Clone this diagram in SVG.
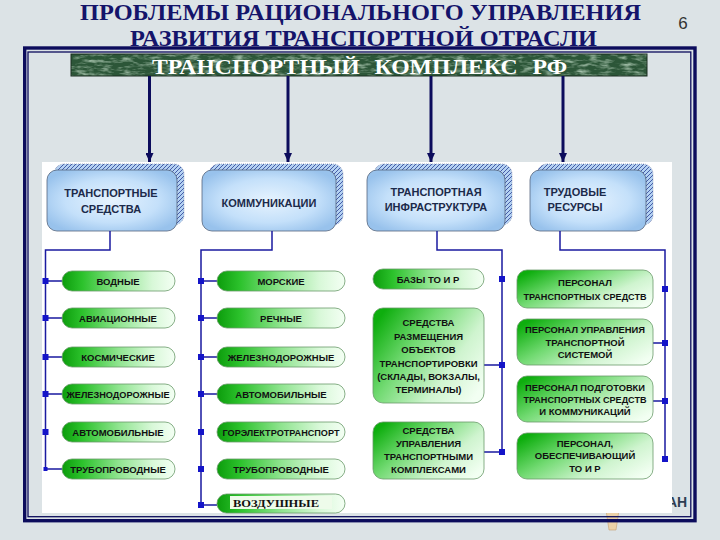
<svg xmlns="http://www.w3.org/2000/svg" width="720" height="540" viewBox="0 0 720 540">
<defs>
<style>
.title{font-family:"Liberation Serif","Times New Roman",serif;font-weight:bold;font-size:19px;fill:#14146a}
.pill{fill:url(#gPill);stroke:#6a9a6a;stroke-width:0.8}
.box{fill:url(#gBox);stroke:#6a9a6a;stroke-width:0.8}
.t{font-family:"Liberation Sans",Arial,sans-serif;font-weight:bold;font-size:9.5px;fill:#111;text-anchor:middle}
.h{font-family:"Liberation Sans",Arial,sans-serif;font-weight:bold;font-size:11px;fill:#1c2a4a;text-anchor:middle}
.hd{fill:url(#gHead);stroke:#56667e;stroke-width:0.8}
.sh{fill:url(#hatch);stroke:#6f80a8;stroke-width:0.6;stroke-dasharray:1 1}
.c{fill:none;stroke:#1a1aa0;stroke-width:1.5}
.sq{fill:#1414c8}
.arr{stroke:#0c0c5c;stroke-width:3;fill:none;marker-end:url(#ah)}
</style>
<radialGradient id="gHead" cx="0.5" cy="0.5" r="0.6">
<stop offset="0" stop-color="#e6f3fe"/>
<stop offset="0.6" stop-color="#c4e0fa"/>
<stop offset="1" stop-color="#98c2ec"/>
</radialGradient>
<linearGradient id="gPill" x1="0" y1="0" x2="1" y2="0">
<stop offset="0" stop-color="#0c9c0c"/>
<stop offset="0.18" stop-color="#2cc22c"/>
<stop offset="0.5" stop-color="#8fe48f"/>
<stop offset="0.8" stop-color="#d8f8d8"/>
<stop offset="1" stop-color="#f4fff4"/>
</linearGradient>
<linearGradient id="gBox" x1="0" y1="0.2" x2="1" y2="0.8">
<stop offset="0" stop-color="#0eae0e"/>
<stop offset="0.35" stop-color="#72da72"/>
<stop offset="0.7" stop-color="#cff4cf"/>
<stop offset="1" stop-color="#f2fff2"/>
</linearGradient>
<pattern id="hatch" patternUnits="userSpaceOnUse" width="4" height="4">
<rect width="4" height="4" fill="#b4d2f2"/>
<path d="M-1,5 L5,-1" stroke="#3a4fa0" stroke-width="0.9"/>
</pattern>
<filter id="marble" x="0" y="0" width="100%" height="100%">
<feTurbulence type="fractalNoise" baseFrequency="0.09 0.3" numOctaves="3" seed="4"/>
<feColorMatrix type="matrix" values="0 0 0 0 0.55  0 0 0 0 0.72  0 0 0 0 0.58  1.8 0 0 0 -0.8"/>
</filter>
<marker id="ah" markerUnits="userSpaceOnUse" markerWidth="9" markerHeight="8" viewBox="0 0 9 8" refX="9" refY="4" orient="auto">
<path d="M0,0 L9,4 L0,8 z" fill="#0c0c5c"/>
</marker>
</defs>

<rect width="720" height="540" fill="#dce3e6"/>

<text class="title" transform="translate(80,19.5) scale(1,1.2)" x="0" y="0" textLength="561" lengthAdjust="spacingAndGlyphs">ПРОБЛЕМЫ РАЦИОНАЛЬНОГО УПРАВЛЕНИЯ</text>
<text class="title" transform="translate(130,45.5) scale(1,1.2)" x="0" y="0" textLength="467" lengthAdjust="spacingAndGlyphs">РАЗВИТИЯ ТРАНСПОРТНОЙ ОТРАСЛИ</text>
<text x="683" y="29" font-family="Liberation Sans, Arial, sans-serif" font-size="17" fill="#333" text-anchor="middle">6</text>

<text x="667" y="507" font-family="Liberation Sans, Arial, sans-serif" font-weight="bold" font-size="14" fill="#2e3e52">АН</text>
<path d="M606,510 L619,510 L616,530 L609,530 Z" fill="#ecd2a8" stroke="#c8a070" stroke-width="0.6"/>

<rect x="42" y="162" width="630" height="351" fill="#ffffff"/>

<rect x="24.7" y="48" width="670.3" height="472.7" fill="none" stroke="#0c0c5c" stroke-width="3.4"/>
<rect x="28" y="52" width="662.8" height="464.7" fill="none" stroke="#0c0c5c" stroke-width="1.3"/>

<g id="banner">
<rect x="71" y="54" width="576" height="22" fill="#2c5638"/>
<rect x="71" y="54" width="576" height="22" fill="#2c5638" filter="url(#marble)"/>
<rect x="71" y="54" width="576" height="22" fill="none" stroke="#1a2e20" stroke-width="1"/>
<text x="152" y="74" font-family="Liberation Serif, Times New Roman, serif" font-weight="bold" font-size="21" fill="#ffffff" word-spacing="8" textLength="415" lengthAdjust="spacingAndGlyphs">ТРАНСПОРТНЫЙ КОМПЛЕКС РФ</text>
</g>

<g id="arrows">
<line class="arr" x1="149.5" y1="76" x2="149.5" y2="162"/>
<line class="arr" x1="288" y1="76" x2="288" y2="162"/>
<line class="arr" x1="431" y1="76" x2="431" y2="162"/>
<line class="arr" x1="563" y1="76" x2="563" y2="162"/>
</g>

<g id="head1">
<rect class="sh" x="54" y="164" width="130" height="61" rx="10"/>
<rect class="hd" x="47" y="170" width="130" height="61" rx="10"/>
<text class="h" x="111" y="197">ТРАНСПОРТНЫЕ</text>
<text class="h" x="111" y="213">СРЕДСТВА</text>
</g>
<g id="head2">
<rect class="sh" x="209" y="164" width="134" height="61" rx="10"/>
<rect class="hd" x="202" y="170" width="134" height="61" rx="10"/>
<text class="h" x="269" y="207">КОММУНИКАЦИИ</text>
</g>
<g id="head3">
<rect class="sh" x="374" y="164" width="138" height="61" rx="10"/>
<rect class="hd" x="367" y="170" width="138" height="61" rx="10"/>
<text class="h" x="436" y="196">ТРАНСПОРТНАЯ</text>
<text class="h" x="436" y="211">ИНФРАСТРУКТУРА</text>
</g>
<g id="head4">
<rect class="sh" x="537" y="164" width="116" height="61" rx="10"/>
<rect class="hd" x="530" y="170" width="116" height="61" rx="10"/>
<text class="h" x="575" y="196">ТРУДОВЫЕ</text>
<text class="h" x="575" y="211">РЕСУРСЫ</text>
</g>

<g id="connectors">
<path class="c" d="M110,231 V250 H45.5 V469 H62"/>
<path class="c" d="M45.5,281 H62 M45.5,318 H62 M45.5,357 H62 M45.5,394 H62"/>
<path class="c" d="M272,231 V250 H201 V394"/>
<path class="c" d="M201,394 V505 H217" stroke-width="2.2" stroke="#14148a"/>
<path class="c" d="M201,281 H217 M201,318 H217 M201,357 H217 M201,394 H217"/>
<path class="c" d="M437,231 V250 H502 V452"/>
<path class="c" d="M484,365 H502 M484,452 H502"/>
<path class="c" d="M560,231 V250 H665 V459"/>
<path class="c" d="M653,343 H665 M653,401 H665"/>
<g class="sq">
<rect x="42.5" y="278" width="6" height="6"/>
<rect x="42.5" y="315" width="6" height="6"/>
<rect x="42.5" y="354" width="6" height="6"/>
<rect x="42.5" y="391" width="6" height="6"/>
<rect x="42.5" y="429" width="6" height="6"/>
<rect x="43.5" y="467" width="4" height="4"/>
<rect x="198" y="278" width="6" height="6"/>
<rect x="198" y="315" width="6" height="6"/>
<rect x="198" y="354" width="6" height="6"/>
<rect x="198" y="391" width="6" height="6"/>
<rect x="198" y="429" width="6" height="6"/>
<rect x="198" y="466" width="6" height="6"/>
<rect x="198" y="502" width="6" height="6"/>
<rect x="499" y="276" width="6" height="6"/>
<rect x="499" y="362" width="6" height="6"/>
<rect x="499" y="449" width="6" height="6"/>
<rect x="662" y="286" width="6" height="6"/>
<rect x="662" y="340" width="6" height="6"/>
<rect x="662" y="398" width="6" height="6"/>
<rect x="662" y="456" width="6" height="6"/>
</g>
</g>

<g id="c1r1"><rect class="pill" x="62" y="271" width="113" height="20" rx="10"/><text class="t" x="118" y="284.5">ВОДНЫЕ</text></g>
<g id="c1r2"><rect class="pill" x="62" y="308" width="113" height="20" rx="10"/><text class="t" x="118" y="321.5">АВИАЦИОННЫЕ</text></g>
<g id="c1r3"><rect class="pill" x="62" y="347" width="113" height="20" rx="10"/><text class="t" x="118" y="360.5">КОСМИЧЕСКИЕ</text></g>
<g id="c1r4"><rect class="pill" x="62" y="384" width="113" height="20" rx="10"/><text class="t" x="118" y="397.5" textLength="103" lengthAdjust="spacingAndGlyphs">ЖЕЛЕЗНОДОРОЖНЫЕ</text></g>
<g id="c1r5"><rect class="pill" x="62" y="422" width="113" height="20" rx="10"/><text class="t" x="118" y="435.5">АВТОМОБИЛЬНЫЕ</text></g>
<g id="c1r6"><rect class="pill" x="62" y="459" width="113" height="20" rx="10"/><text class="t" x="118" y="472.5">ТРУБОПРОВОДНЫЕ</text></g>

<g id="c2r1"><rect class="pill" x="217" y="271" width="128" height="20" rx="10"/><text class="t" x="281" y="284.5">МОРСКИЕ</text></g>
<g id="c2r2"><rect class="pill" x="217" y="308" width="128" height="20" rx="10"/><text class="t" x="281" y="321.5">РЕЧНЫЕ</text></g>
<g id="c2r3"><rect class="pill" x="217" y="347" width="128" height="20" rx="10"/><text class="t" x="281" y="360.5">ЖЕЛЕЗНОДОРОЖНЫЕ</text></g>
<g id="c2r4"><rect class="pill" x="217" y="384" width="128" height="20" rx="10"/><text class="t" x="281" y="397.5">АВТОМОБИЛЬНЫЕ</text></g>
<g id="c2r5"><rect class="pill" x="217" y="422" width="128" height="20" rx="10"/><text class="t" x="281" y="435.5" textLength="117" lengthAdjust="spacingAndGlyphs">ГОРЭЛЕКТРОТРАНСПОРТ</text></g>
<g id="c2r6"><rect class="pill" x="217" y="459" width="128" height="20" rx="10"/><text class="t" x="281" y="472.5">ТРУБОПРОВОДНЫЕ</text></g>
<g id="c2r7"><rect class="pill" x="217" y="494" width="128" height="19" rx="9.5"/><rect x="230" y="496" width="102" height="13" fill="#eefbea"/><text x="233" y="507" font-family="Liberation Serif, Times New Roman, serif" font-weight="bold" font-size="11" fill="#111" textLength="86" lengthAdjust="spacingAndGlyphs">ВОЗДУШНЫЕ</text></g>

<g id="c3r1"><rect class="pill" x="373" y="269" width="111" height="20" rx="10"/><text class="t" x="428" y="282.5">БАЗЫ ТО И Р</text></g>
<g id="c3r2"><rect class="box" x="373" y="308" width="111" height="95" rx="10"/>
<text class="t" x="428.5" y="326">СРЕДСТВА</text>
<text class="t" x="428.5" y="339.5">РАЗМЕЩЕНИЯ</text>
<text class="t" x="428.5" y="353">ОБЪЕКТОВ</text>
<text class="t" x="428.5" y="366.5">ТРАНСПОРТИРОВКИ</text>
<text class="t" x="428.5" y="380">(СКЛАДЫ, ВОКЗАЛЫ,</text>
<text class="t" x="428.5" y="393">ТЕРМИНАЛЫ)</text></g>
<g id="c3r3"><rect class="box" x="373" y="422" width="111" height="57" rx="10"/>
<text class="t" x="428.5" y="434">СРЕДСТВА</text>
<text class="t" x="428.5" y="447">УПРАВЛЕНИЯ</text>
<text class="t" x="428.5" y="460">ТРАНСПОРТНЫМИ</text>
<text class="t" x="428.5" y="473">КОМПЛЕКСАМИ</text></g>

<g id="c4r1"><rect class="box" x="517" y="270" width="136" height="38" rx="10"/>
<text class="t" x="585" y="286">ПЕРСОНАЛ</text>
<text class="t" x="585" y="300" textLength="123" lengthAdjust="spacingAndGlyphs">ТРАНСПОРТНЫХ СРЕДСТВ</text></g>
<g id="c4r2"><rect class="box" x="517" y="319" width="136" height="46" rx="10"/>
<text class="t" x="585" y="333" textLength="120" lengthAdjust="spacingAndGlyphs">ПЕРСОНАЛ УПРАВЛЕНИЯ</text>
<text class="t" x="585" y="345.5">ТРАНСПОРТНОЙ</text>
<text class="t" x="585" y="358">СИСТЕМОЙ</text></g>
<g id="c4r3"><rect class="box" x="517" y="376" width="136" height="46" rx="10"/>
<text class="t" x="585" y="391" textLength="120" lengthAdjust="spacingAndGlyphs">ПЕРСОНАЛ ПОДГОТОВКИ</text>
<text class="t" x="585" y="403" textLength="123" lengthAdjust="spacingAndGlyphs">ТРАНСПОРТНЫХ СРЕДСТВ</text>
<text class="t" x="585" y="415">И КОММУНИКАЦИЙ</text></g>
<g id="c4r4"><rect class="box" x="517" y="433" width="136" height="46" rx="10"/>
<text class="t" x="585" y="447">ПЕРСОНАЛ,</text>
<text class="t" x="585" y="459">ОБЕСПЕЧИВАЮЩИЙ</text>
<text class="t" x="585" y="472">ТО И Р</text></g>
</svg>
